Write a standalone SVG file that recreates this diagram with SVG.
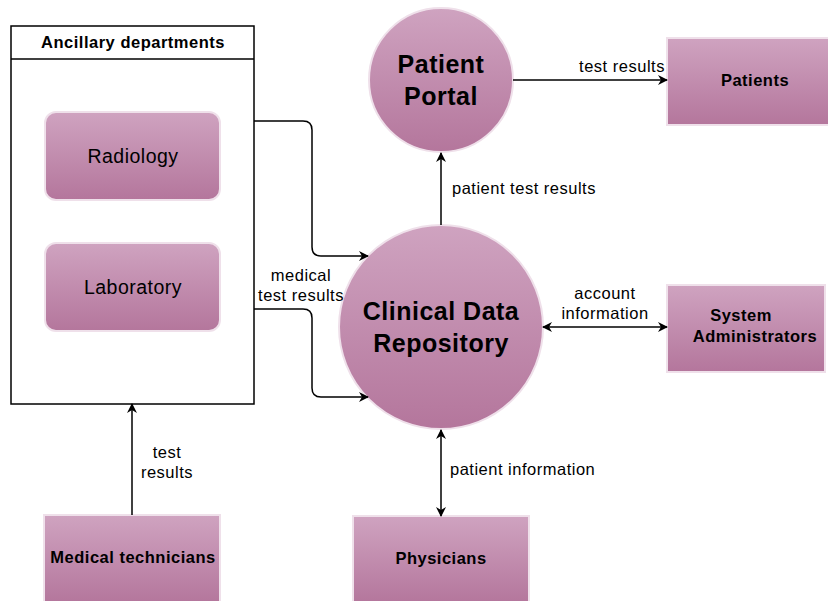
<svg xmlns="http://www.w3.org/2000/svg" width="828" height="601" viewBox="0 0 828 601">
<style>
text{font-family:"Liberation Sans",Arial,sans-serif;fill:#000;letter-spacing:0.5px}
.lbl{font-size:16.5px;text-anchor:middle}
.lbll{font-size:16.5px;text-anchor:start}
.bold{font-size:16.5px;font-weight:bold;text-anchor:middle}
.big{font-size:25px;font-weight:bold;text-anchor:middle}
.dept{font-size:19.5px;text-anchor:middle}
.shape{fill:url(#grad);stroke:#efe0ea;stroke-width:2}
.edge{fill:none;stroke:#000;stroke-width:1.5}
</style>
<defs>
<linearGradient id="grad" x1="0" y1="0" x2="0" y2="1">
<stop offset="0" stop-color="#cfa3c0"/>
<stop offset="1" stop-color="#b4769c"/>
</linearGradient>
<marker id="arr" viewBox="0 0 10 10" refX="9" refY="5" markerWidth="10" markerHeight="10" markerUnits="userSpaceOnUse" orient="auto-start-reverse">
<path d="M0,0 L10,5 L0,10 L3,5 Z" fill="#000"/>
</marker>
</defs>
<g id="ancillary">
<rect x="11" y="26" width="243" height="378" fill="#fff" stroke="#000" stroke-width="1.5"/>
<line x1="11" y1="59" x2="254" y2="59" stroke="#000" stroke-width="1.5"/>
<text class="bold" x="133" y="48">Ancillary departments</text>
</g>
<g id="radiology">
<rect class="shape" x="45" y="112" width="175" height="88" rx="11"/>
<text class="dept" x="133" y="163">Radiology</text>
</g>
<g id="laboratory">
<rect class="shape" x="45" y="243" width="175" height="88" rx="11"/>
<text class="dept" x="133" y="294">Laboratory</text>
</g>
<g id="patient-portal">
<circle class="shape" cx="441" cy="80" r="72"/>
<text class="big" x="441" y="73">Patient</text>
<text class="big" x="441" y="105">Portal</text>
</g>
<g id="cdr">
<circle class="shape" cx="441" cy="327" r="102"/>
<text class="big" x="441" y="320">Clinical Data</text>
<text class="big" x="441" y="352">Repository</text>
</g>
<g id="patients">
<rect class="shape" x="667" y="38" width="162" height="87"/>
<text class="bold" x="755" y="86">Patients</text>
</g>
<g id="sysadmin">
<rect class="shape" x="667" y="285" width="158" height="87"/>
<text class="bold" x="741" y="321">System</text>
<text class="bold" x="755" y="342">Administrators</text>
</g>
<g id="physicians">
<rect class="shape" x="353" y="516" width="176" height="87"/>
<text class="bold" x="441" y="564">Physicians</text>
</g>
<g id="medtech">
<rect class="shape" x="44" y="515" width="176" height="88"/>
<text class="bold" x="133" y="563">Medical technicians</text>
</g>
<g id="connectors">
<path class="edge" d="M254,121 H303 Q312,121 312,130 V247 Q312,256 321,256 H368" marker-end="url(#arr)"/>
<path class="edge" d="M254,309 H303 Q312,309 312,318 V388 Q312,397 321,397 H368" marker-end="url(#arr)"/>
<text class="lbl" x="301" y="281">medical</text>
<text class="lbl" x="301" y="301">test results</text>
<path class="edge" d="M513,80 H667" marker-end="url(#arr)"/>
<text class="lbl" x="622" y="72">test results</text>
<path class="edge" d="M441,225 V153" marker-end="url(#arr)"/>
<text class="lbll" x="452" y="194">patient test results</text>
<path class="edge" d="M543,327 H667" marker-start="url(#arr)" marker-end="url(#arr)"/>
<text class="lbl" x="605" y="299">account</text>
<text class="lbl" x="605" y="319">information</text>
<path class="edge" d="M441,430 V516" marker-start="url(#arr)" marker-end="url(#arr)"/>
<text class="lbll" x="450" y="475">patient information</text>
<path class="edge" d="M132,515 V404" marker-end="url(#arr)"/>
<text class="lbl" x="167" y="458">test</text>
<text class="lbl" x="167" y="478">results</text>
</g>
</svg>
